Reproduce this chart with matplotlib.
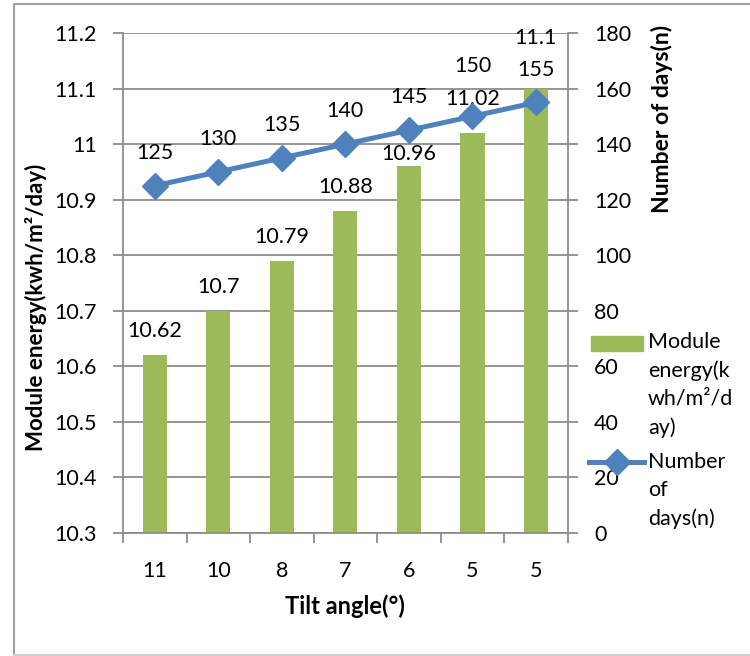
import matplotlib.pyplot as plt
from matplotlib.patches import Rectangle
from matplotlib.lines import Line2D
import numpy as np

# data
tilt_angles = ["11", "10", "8", "7", "6", "5", "5"]
module_energy = [10.62, 10.7, 10.79, 10.88, 10.96, 11.02, 11.1]
num_days = [125, 130, 135, 140, 145, 150, 155]

green = "#9BBB59"
blue = "#4F81BD"
grid_gray = "#8C8C8C"

plt.rcParams['font.family'] = ['Lato', 'DejaVu Sans']
fs = 15.5

fig = plt.figure(figsize=(7.5, 6.56), dpi=100)
ax = fig.add_axes([0.164, 0.1875, 0.593, 0.7622])
ind = np.arange(len(tilt_angles))

ax.bar(ind, module_energy, 0.38, color=green, zorder=2)
ax.set_ylim(10.3, 11.2)
ax.set_xlim(-0.5, len(ind) - 0.5)
ax.set_yticks(np.arange(10.3, 11.21, 0.1))
ax.set_yticklabels(["10.3", "10.4", "10.5", "10.6", "10.7", "10.8", "10.9", "11", "11.1", "11.2"])
ax.yaxis.grid(True, color=grid_gray, linewidth=1.3, zorder=0)
ax.set_axisbelow(True)
ax.set_xticks(ind)
ax.set_xticklabels(tilt_angles)
ax.set_xticks(np.arange(-0.5, len(ind), 1), minor=True)
ax.tick_params(axis='x', which='major', length=0, pad=20, labelsize=fs)
ax.tick_params(axis='x', which='minor', length=7, width=1.3, color=grid_gray, direction='out')
ax.tick_params(axis='y', length=7, width=1.3, color=grid_gray, pad=12, labelsize=fs)
for s in ['top', 'right']:
    ax.spines[s].set_visible(False)
for s in ['left', 'bottom']:
    ax.spines[s].set_color(grid_gray)
    ax.spines[s].set_linewidth(1.3)

# Excel nudged a few labels to dodge each other
bar_lbl_off = [10, 10, 10, 10, 2, 17, 29]
line_lbl_off = [16.5, 16.5, 16.5, 16.5, 16.5, 29, 16.5]

for i, v in enumerate(module_energy):
    ax.annotate(f"{v:g}", (i, v), xytext=(0, bar_lbl_off[i]), textcoords='offset points',
                ha='center', va='bottom', fontsize=fs)

ax2 = ax.twinx()
ax2.plot(ind, num_days, color=blue, linewidth=3.6, marker='D', markersize=13, zorder=3)
ax2.set_ylim(0, 180)
ax2.set_yticks(np.arange(0, 181, 20))
ax2.tick_params(axis='y', length=7, width=1.3, color=grid_gray, pad=12, labelsize=fs)
for s in ['top', 'left', 'bottom']:
    ax2.spines[s].set_visible(False)
ax2.spines['right'].set_color(grid_gray)
ax2.spines['right'].set_linewidth(1.3)

for i, v in enumerate(num_days):
    ax2.annotate(f"{v}", (i, v), xytext=(0, line_lbl_off[i]), textcoords='offset points',
                 ha='center', va='bottom', fontsize=fs)

ax.set_xlabel("Tilt angle(°)", fontsize=17, fontweight='bold', labelpad=10)
fig.text(36 / 750, 1 - 307 / 656, "Module energy(kwh/m²/day)", rotation=90, ha='center',
         va='center', fontsize=16, fontweight='bold')
fig.text(662 / 750, 1 - 119 / 656, "Number of days(n)", rotation=90, ha='center',
         va='center', fontsize=16.5, fontweight='bold')

# legend drawn in the Excel layout
fig.add_artist(Rectangle((591 / 750, 1 - 351 / 656), 52 / 750, 15 / 656,
                         transform=fig.transFigure, color=green))
fig.text(648 / 750, 1 - 332 / 656, "Module\nenergy(k\nwh/m²/d\nay)", ha='left', va='top',
         fontsize=fs, linespacing=1.5)
fig.add_artist(Line2D([589 / 750, 644 / 750], [1 - 462 / 656, 1 - 462 / 656],
                      transform=fig.transFigure, color=blue, linewidth=3.6))
fig.add_artist(Line2D([617 / 750], [1 - 462 / 656], transform=fig.transFigure,
                      color=blue, marker='D', markersize=13))
fig.text(648 / 750, 1 - 452 / 656, "Number\nof\ndays(n)", ha='left', va='top',
         fontsize=fs, linespacing=1.5)

# outer chart border
fig.add_artist(Line2D([14 / 750, 14 / 750, 1.0], [1 - 655 / 656, 1 - 4 / 656, 1 - 4 / 656],
                      transform=fig.transFigure, color="#A0A0A0", linewidth=1.5))
fig.add_artist(Line2D([14 / 750, 1.0], [1 - 655 / 656, 1 - 655 / 656],
                      transform=fig.transFigure, color="#D0D0D0", linewidth=1.5))

fig.savefig("out.png")
